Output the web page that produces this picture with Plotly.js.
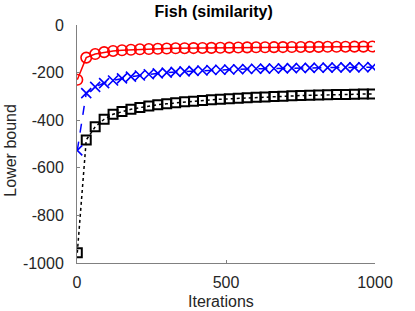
<!DOCTYPE html>
<html>
<head>
<meta charset="utf-8">
<script src="https://cdn.plot.ly/plotly-3.0.1.min.js"></script>
<style>html,body{margin:0;padding:0;background:#fff;}#chart{width:415px;height:311px;}</style>
</head>
<body>
<div id="chart"></div>
<script>
// Iteration numbers at which the markers are drawn
const iterations = [1, 31, 61, 91, 121, 151, 181, 211, 241, 271, 301, 331, 361, 391, 421, 451, 481, 511, 541, 571, 601, 631, 661, 691, 721, 751, 781, 811, 841, 871, 901, 931, 961, 991];

// Series values (lower bound)
const redSeries = [-230, -137, -122, -114, -109, -106, -104, -102, -101, -100, -99, -98, -97.5, -97, -96.5, -96, -95.5, -95, -94.5, -94, -93.7, -93.4, -93.1, -92.8, -92.5, -92.2, -92, -91.8, -91.6, -91.4, -91.2, -91, -90.8, -90.6];
const blueSeries = [-527, -286, -260, -244, -233, -224, -217, -212, -207, -203, -200, -197, -195, -193, -191, -189, -188, -187, -186, -185, -184, -183.3, -182.6, -182, -181.4, -180.8, -180.2, -179.7, -179.2, -178.7, -178.2, -177.8, -177.4, -177];
const blackSeries = [-957, -483, -428, -396, -375, -363, -354, -347, -340, -335, -331, -327, -323, -320, -317, -314, -312, -310, -308, -306, -304, -302, -300.5, -299, -297.5, -296.5, -295.5, -294.5, -293.5, -292.5, -291.5, -290.8, -290, -289.5];

const xTickVals = [0, 500, 1000];
const xTickText = ['0', '500', '1000'];
const yTickVals = [0, -200, -400, -600, -800, -1000];
const yTickText = ['0', '-200', '-400', '-600', '-800', '-1000'];

const FONT = 'Liberation Sans, Arial, Helvetica, sans-serif';
const TXT = '#262626';
const AX = '#808080';

const traces = [
  {x: iterations, y: blackSeries, mode: 'lines+markers', type: 'scatter',
   line: {color: '#000', width: 1.5, dash: 'dot'},
   marker: {symbol: 'square-open', size: 9, color: '#000', line: {color: '#000', width: 2}}},
  {x: iterations, y: blueSeries, mode: 'lines+markers', type: 'scatter',
   line: {color: '#0000ff', width: 1.5, dash: 'dash'},
   marker: {symbol: 'x-thin-open', size: 10, color: '#0000ff', line: {color: '#0000ff', width: 1.6}}},
  {x: iterations, y: redSeries, mode: 'lines+markers', type: 'scatter',
   line: {color: '#ff0000', width: 1.5},
   marker: {symbol: 'circle-open', size: 10.5, color: '#ff0000', line: {color: '#ff0000', width: 1.6}}}
];

const layout = {
  width: 415, height: 311,
  margin: {l: 77, r: 40, t: 25, b: 48, pad: 0},
  paper_bgcolor: '#fff', plot_bgcolor: '#fff',
  showlegend: false,
  font: {family: FONT, size: 16, color: TXT},
  title: {text: 'Fish (similarity)', x: 0.515, xref: 'container', xanchor: 'center',
          y: 0.962, yref: 'container', yanchor: 'middle',
          font: {family: FONT, size: 16, weight: 'bold', color: '#000'}},
  xaxis: {range: [0, 1000], tickvals: xTickVals, ticktext: xTickText,
          showgrid: false, zeroline: false, showline: true, linecolor: AX, linewidth: 1,
          ticks: 'inside', ticklen: 3, tickcolor: AX, tickfont: {family: FONT, size: 16, color: TXT},
          ticklabelstandoff: 5, fixedrange: true},
  yaxis: {range: [-1000, 0], tickvals: yTickVals, ticktext: yTickText,
          showgrid: false, zeroline: false, showline: true, linecolor: AX, linewidth: 1,
          ticks: 'inside', ticklen: 3, tickcolor: AX, tickfont: {family: FONT, size: 16, color: TXT},
          ticklabelstandoff: 9, fixedrange: true},
  annotations: [
    {text: 'Iterations', xref: 'paper', yref: 'paper', x: 0.4826, y: -0.16,
     xanchor: 'center', yanchor: 'middle', showarrow: false, font: {family: FONT, size: 16, color: TXT}},
    {text: 'Lower bound', xref: 'paper', yref: 'paper', x: -0.2225, y: 0.475, textangle: -90,
     xanchor: 'center', yanchor: 'middle', showarrow: false, font: {family: FONT, size: 16, color: TXT}}
  ]
};

Plotly.newPlot('chart', traces, layout, {displayModeBar: false, staticPlot: true});
</script>
</body>
</html>
